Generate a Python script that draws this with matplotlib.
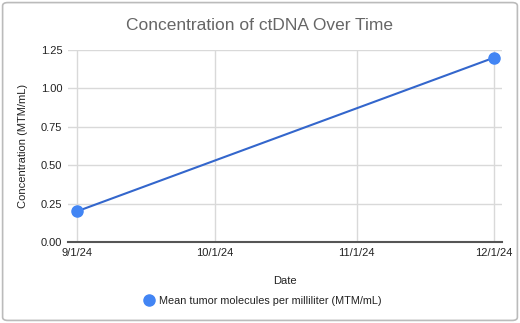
import datetime as dt
import matplotlib
matplotlib.use("Agg")
import matplotlib.pyplot as plt
from matplotlib.patches import FancyBboxPatch

plt.rcParams['font.family'] = ['Liberation Sans', 'DejaVu Sans']

dates = [dt.datetime(2024, 9, 1), dt.datetime(2024, 12, 1)]
conc = [0.2, 1.2]
tick_dates = [dt.datetime(2024, 9, 1), dt.datetime(2024, 10, 1),
              dt.datetime(2024, 11, 1), dt.datetime(2024, 12, 1)]
tick_labels = ['9/1/24', '10/1/24', '11/1/24', '12/1/24']
y_ticks = [0.0, 0.25, 0.5, 0.75, 1.0, 1.25]

fig = plt.figure(figsize=(5.2, 3.23), dpi=100)
ax = fig.add_axes([0.1308, 0.2508, 0.8346, 0.5944])

ax.plot(dates, conc, color='#3366cc', lw=1.5, marker='o', ms=8,
        mfc='#4285f4', mec='#4285f4', zorder=3,
        label='Mean tumor molecules per milliliter (MTM/mL)')

ax.set_xlim(dt.datetime(2024, 8, 30), dt.datetime(2024, 12, 2, 18))
ax.set_ylim(0, 1.25)
ax.set_xticks(tick_dates)
ax.set_xticklabels(tick_labels)
ax.set_yticks(y_ticks)
ax.set_yticklabels([f'{v:.2f}' for v in y_ticks])
ax.tick_params(length=0, labelsize=8, colors='#222222', pad=4)

ax.grid(True, color='#d9d9d9', lw=1)
ax.set_axisbelow(True)
for s in ['top', 'right', 'left']:
    ax.spines[s].set_visible(False)
ax.spines['bottom'].set_color('#555555')
ax.spines['bottom'].set_linewidth(1.5)

ax.set_xlabel('Date', fontsize=8, color='#222222', labelpad=13)
ax.set_ylabel('Concentration (MTM/mL)', fontsize=8, color='#222222', labelpad=9)
fig.text(0.5, 0.922, 'Concentration of ctDNA Over Time', ha='center', va='center',
         fontsize=12.5, color='#666666')

fig.legend(loc='center', bbox_to_anchor=(0.505, 0.068), frameon=False, fontsize=7.8,
           handlelength=1, handletextpad=0.5, labelcolor='#222222')
leg = fig.legends[0]
for h in leg.legend_handles:
    h.set_linestyle('none')

fig.patches.append(FancyBboxPatch((0.005, 0.008), 0.99, 0.984,
                                  boxstyle='round,pad=0,rounding_size=0.01',
                                  transform=fig.transFigure, fill=False,
                                  ec='#bbbbbb', lw=1.2))

fig.savefig('out.png', dpi=100)
